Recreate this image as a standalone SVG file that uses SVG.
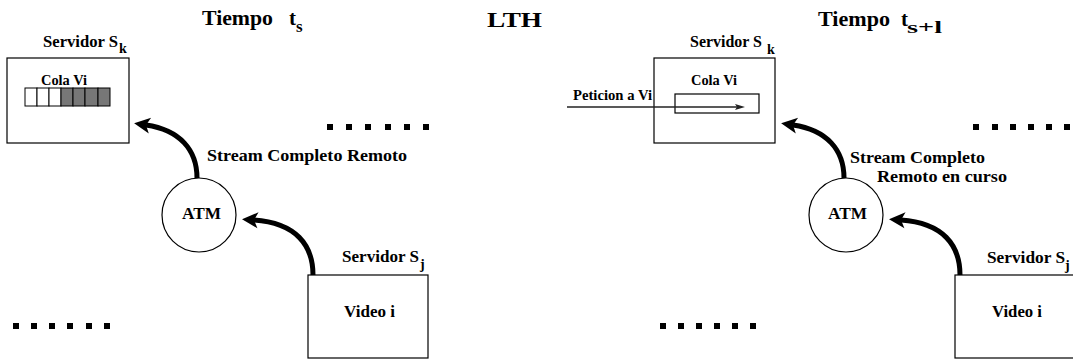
<svg xmlns="http://www.w3.org/2000/svg" width="1073" height="360" viewBox="0 0 1073 360">
  <style>
    text { font-family: "Liberation Serif", "Times New Roman", serif; font-weight: 700; fill: #000; }
    .title { font-size: 21px; }
    .lbl { font-size: 17px; }
    .small { font-size: 14px; }
    .box { fill: #fff; stroke: #000; stroke-width: 1.2; }
    .cell { stroke: #000; stroke-width: 1; }
    .empty { fill: #fff; }
    .full { fill: #777; }
    .flow { fill: none; stroke: #000; stroke-width: 5; marker-end: url(#head); }
    .req { fill: none; stroke: #222; stroke-width: 1.5; marker-end: url(#thin); }
    .dot { fill: #000; }
  </style>
  <defs>
    <marker id="head" markerUnits="userSpaceOnUse" markerWidth="20" markerHeight="18" refX="4" refY="8" orient="auto" overflow="visible">
      <path d="M0,0 L16,8 L0,16 L4,8 Z" fill="#000"/>
    </marker>
    <marker id="thin" markerUnits="userSpaceOnUse" markerWidth="12" markerHeight="8" refX="2" refY="4" orient="auto" overflow="visible">
      <path d="M0,1 L10,4 L0,7 L2,4 Z" fill="#222"/>
    </marker>
  </defs>

  <!-- headings -->
  <g id="titles">
    <text class="title" x="202" y="25" textLength="71" lengthAdjust="spacingAndGlyphs">Tiempo</text>
    <text class="title" x="289" y="25">t</text>
    <text class="lbl" x="296" y="32" font-size="19">s</text>
    <text class="title" x="487" y="27" font-size="22" textLength="55" lengthAdjust="spacingAndGlyphs">LTH</text>
    <text class="title" x="818" y="26" textLength="72" lengthAdjust="spacingAndGlyphs">Tiempo</text>
    <text class="title" x="901" y="26">t</text>
    <text class="lbl" x="907" y="33" font-size="19" textLength="35" lengthAdjust="spacingAndGlyphs">s+l</text>
  </g>

  <!-- time t_s -->
  <g id="serverK-ts">
    <text class="lbl" x="43" y="47" textLength="75" lengthAdjust="spacingAndGlyphs">Servidor S</text>
    <text class="small" x="119" y="53" font-size="15">k</text>
    <rect class="box" x="7" y="58" width="122" height="85"/>
    <text class="small" x="41" y="85" textLength="46" lengthAdjust="spacingAndGlyphs">Cola Vi</text>
    <g id="queue-ts">
      <rect class="cell empty" x="25" y="88" width="12" height="18"/>
      <rect class="cell empty" x="37" y="88" width="12" height="18"/>
      <rect class="cell empty" x="49" y="88" width="12" height="18"/>
      <rect class="cell full" x="61" y="88" width="12" height="18"/>
      <rect class="cell full" x="73" y="88" width="12" height="18"/>
      <rect class="cell full" x="85" y="88" width="13" height="18"/>
      <rect class="cell full" x="98" y="88" width="12" height="18"/>
    </g>
  </g>
  <g id="atm-ts">
    <circle class="box" cx="199" cy="215" r="37"/>
    <text class="lbl" x="182" y="219" textLength="39" lengthAdjust="spacingAndGlyphs">ATM</text>
  </g>
  <g id="serverJ-ts">
    <text class="lbl" x="342" y="262" textLength="77" lengthAdjust="spacingAndGlyphs">Servidor S</text>
    <text class="small" x="420" y="269" font-size="15">j</text>
    <rect class="box" x="308" y="275" width="120" height="83"/>
    <text class="lbl" x="344" y="317" textLength="51" lengthAdjust="spacingAndGlyphs">Video i</text>
  </g>
  <g id="notes-ts">
    <text class="lbl" x="207" y="161" font-size="18" textLength="200" lengthAdjust="spacingAndGlyphs">Stream Completo Remoto</text>
  </g>
  <g id="dots-ts" class="dot">
    <rect x="327" y="124" width="6" height="6"/>
    <rect x="346" y="124" width="6" height="6"/>
    <rect x="365" y="124" width="6" height="6"/>
    <rect x="385" y="124" width="6" height="6"/>
    <rect x="404" y="124" width="6" height="6"/>
    <rect x="423" y="124" width="6" height="6"/>
    <rect x="13" y="323" width="6" height="6"/>
    <rect x="31" y="323" width="6" height="6"/>
    <rect x="49" y="323" width="6" height="6"/>
    <rect x="67" y="323" width="6" height="6"/>
    <rect x="86" y="323" width="6" height="6"/>
    <rect x="104" y="323" width="6" height="6"/>
  </g>

  <!-- time t_s+l -->
  <g id="serverK-ts1">
    <text class="lbl" x="690" y="47" textLength="72" lengthAdjust="spacingAndGlyphs">Servidor  S</text>
    <text class="small" x="767" y="54" font-size="16">k</text>
    <rect class="box" x="654" y="58" width="121" height="85"/>
    <text class="small" x="691" y="85" textLength="46" lengthAdjust="spacingAndGlyphs">Cola Vi</text>
    <rect class="box" x="675" y="94" width="84" height="19" fill="none"/>
  </g>
  <g id="request">
    <text class="small" x="573" y="100" textLength="79" lengthAdjust="spacingAndGlyphs">Peticion a Vi</text>
  </g>
  <g id="atm-ts1">
    <circle class="box" cx="846" cy="215" r="37"/>
    <text class="lbl" x="828" y="219" textLength="39" lengthAdjust="spacingAndGlyphs">ATM</text>
  </g>
  <g id="serverJ-ts1">
    <text class="lbl" x="987" y="263" textLength="78" lengthAdjust="spacingAndGlyphs">Servidor S</text>
    <text class="small" x="1065" y="270" font-size="14">j</text>
    <rect class="box" x="955" y="275" width="130" height="83"/>
    <text class="lbl" x="992" y="317" textLength="50" lengthAdjust="spacingAndGlyphs">Video i</text>
  </g>
  <g id="notes-ts1">
    <text class="lbl" x="850" y="163" font-size="18" textLength="135" lengthAdjust="spacingAndGlyphs">Stream Completo</text>
    <text class="lbl" x="877" y="182" font-size="18" textLength="130" lengthAdjust="spacingAndGlyphs">Remoto en curso</text>
  </g>
  <g id="dots-ts1" class="dot">
    <rect x="973" y="124" width="6" height="6"/>
    <rect x="992" y="124" width="6" height="6"/>
    <rect x="1010" y="124" width="6" height="6"/>
    <rect x="1028" y="124" width="6" height="6"/>
    <rect x="1046" y="124" width="6" height="6"/>
    <rect x="1064" y="124" width="6" height="6"/>
    <rect x="660" y="323" width="6" height="6"/>
    <rect x="678" y="323" width="6" height="6"/>
    <rect x="696" y="323" width="6" height="6"/>
    <rect x="714" y="323" width="6" height="6"/>
    <rect x="732" y="323" width="6" height="6"/>
    <rect x="750" y="323" width="6" height="6"/>
  </g>

  <!-- connectors -->
  <g id="connectors">
    <path class="flow" d="M197,178 C197,150 180,130 146,125"/>
    <path class="flow" d="M313,275 C313,245 296,223 254,220"/>
    <path class="flow" d="M844,178 C844,150 827,130 793,125"/>
    <path class="flow" d="M960,275 C960,245 943,223 901,220"/>
    <path class="req" d="M567,107 L737,107"/>
  </g>
</svg>
